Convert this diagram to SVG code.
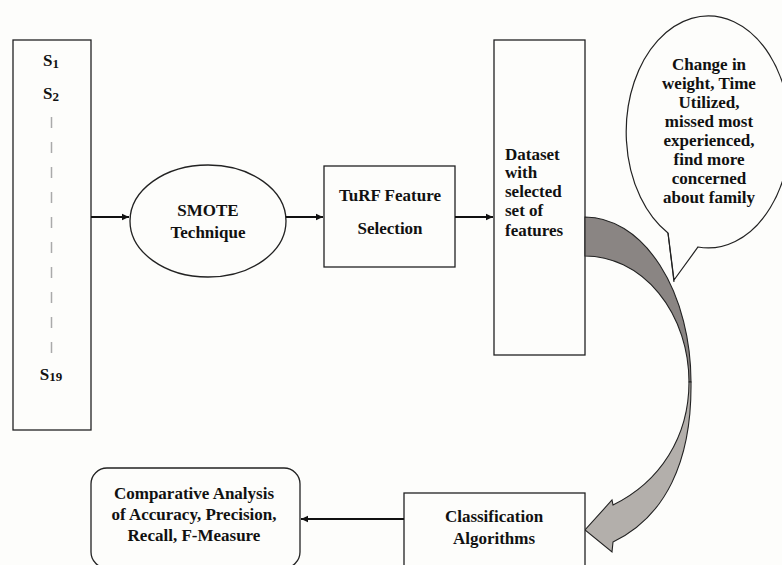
<svg xmlns="http://www.w3.org/2000/svg" width="782" height="565" viewBox="0 0 782 565">
<style>
.box{fill:#fdfdfb;stroke:#222;stroke-width:1.3}
.t{font-family:"Liberation Serif","Times New Roman",serif;font-weight:bold;fill:#111;font-size:17px;text-anchor:middle}
.tl{text-anchor:start}
.c{stroke:#111;stroke-width:1.8;fill:none;marker-end:url(#ah)}
</style>
<defs>
<marker id="ah" markerWidth="8" markerHeight="8" refX="7" refY="4" orient="auto" markerUnits="userSpaceOnUse">
<path d="M0,0.8 L7,4 L0,7.2 Z" fill="#111"/>
</marker>
</defs>
<rect width="782" height="565" fill="#fdfdfb"/>

<g id="sources">
<rect class="box" x="13" y="40" width="78" height="390"/>
<text class="t" x="51" y="66" font-size="19">S<tspan font-size="13" dy="2">1</tspan></text>
<text class="t" x="51" y="99" font-size="19">S<tspan font-size="13" dy="2">2</tspan></text>
<line x1="51.5" y1="117" x2="51.5" y2="356" stroke="#aaa" stroke-width="1.5" stroke-dasharray="11,14"/>
<text class="t" x="51" y="380" font-size="19">S<tspan font-size="13" dy="1">19</tspan></text>
</g>

<g id="smote">
<ellipse class="box" cx="208" cy="221" rx="78" ry="56"/>
<text class="t" x="208" y="216">SMOTE</text>
<text class="t" x="208" y="238">Technique</text>
</g>

<g id="turf">
<rect class="box" x="324" y="166" width="131" height="101"/>
<text class="t" x="390" y="201">TuRF Feature</text>
<text class="t" x="390" y="234">Selection</text>
</g>

<g id="dataset">
<rect class="box" x="494" y="40" width="91" height="315"/>
<text class="t tl" x="505" y="160" font-size="15">Dataset</text>
<text class="t tl" x="505" y="178" font-size="15">with</text>
<text class="t tl" x="505" y="197" font-size="15">selected</text>
<text class="t tl" x="505" y="216" font-size="15">set of</text>
<text class="t tl" x="505" y="236" font-size="15">features</text>
</g>

<g id="bubble">
<path d="M668,233 A82,116 0 1 1 698,247 L674,280 Z" fill="#fdfdfb" stroke="#222" stroke-width="1.2"/>
<text class="t" x="709" y="70" font-size="15">Change in</text>
<text class="t" x="709" y="89" font-size="15">weight, Time</text>
<text class="t" x="709" y="108" font-size="15">Utilized,</text>
<text class="t" x="709" y="127" font-size="15">missed most</text>
<text class="t" x="709" y="146" font-size="15">experienced,</text>
<text class="t" x="709" y="165" font-size="15">find more</text>
<text class="t" x="709" y="184" font-size="15">concerned</text>
<text class="t" x="709" y="203" font-size="15">about family</text>
</g>

<g id="curved-arrow">
<path d="M585,217 A106,165 0 0 1 691,382 L689,382 A104,126 0 0 0 585,256 Z" fill="#8a8583" stroke="#222" stroke-width="1.1"/>
<path d="M689,382 C689,437 660,482 613,505 L612,500 L585,530 L612,552 L613,542 C665,517 692,462 691,382 Z" fill="#b3afab" stroke="#222" stroke-width="1.1"/>
<line x1="668" y1="233" x2="674" y2="282" stroke="#222" stroke-width="1.1"/>
</g>

<g id="classification">
<rect class="box" x="404" y="493" width="181" height="80"/>
<text class="t" x="494" y="522">Classification</text>
<text class="t" x="494" y="544">Algorithms</text>
</g>

<g id="comparative">
<rect class="box" x="91" y="468" width="209" height="100" rx="16"/>
<text class="t" x="194" y="499">Comparative Analysis</text>
<text class="t" x="194" y="520">of Accuracy, Precision,</text>
<text class="t" x="194" y="541">Recall, F-Measure</text>
</g>

<g id="connectors">
<line class="c" x1="91" y1="217" x2="129" y2="217"/>
<line class="c" x1="286" y1="217" x2="323" y2="217"/>
<line class="c" x1="455" y1="217" x2="493" y2="217"/>
<line class="c" x1="404" y1="519" x2="301" y2="519"/>
</g>
</svg>
